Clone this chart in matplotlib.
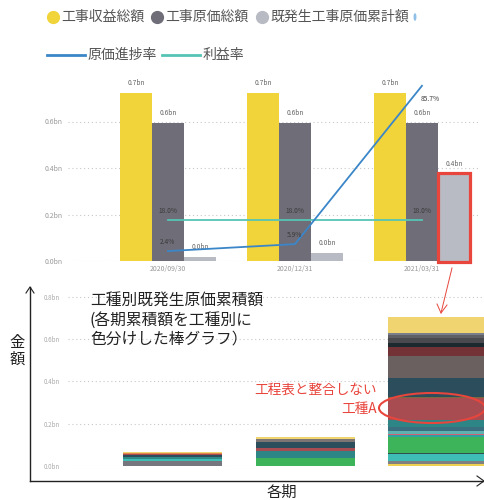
import numpy as np
import matplotlib
matplotlib.use("Agg")
import matplotlib.pyplot as plt
from matplotlib.patches import Rectangle, Ellipse
from matplotlib.lines import Line2D

plt.rcParams['font.family'] = ['Noto Sans CJK JP', 'DejaVu Sans']

# --- data -------------------------------------------------------------
periods = ['2020/09/30', '2020/12/31', '2021/03/31']
revenue = [0.722, 0.722, 0.722]        # 工事収益総額 (bn)
cost_total = [0.594, 0.594, 0.594]     # 工事原価総額 (bn)
cost_actual = [0.017, 0.034, 0.374]    # 既発生工事原価累計額 (bn)
progress = [2.4, 5.9, 85.7]            # 原価進捗率 (%)
margin = [18.0, 18.0, 18.0]            # 利益率 (%)

# 工種別既発生原価累積額 (bottom -> top)
p1_vals = [0.024, 0.008, 0.011, 0.008, 0.006, 0.005, 0.006]
p1_cols = ['#76767e', '#3dbdb5', '#2e8a86', '#2b4d5c', '#a84c52', '#e0864a', '#f0d470']
p2_vals = [0.039, 0.032, 0.016, 0.025, 0.016, 0.008]
p2_cols = ['#3db35a', '#2e8585', '#a84c52', '#2b4d5c', '#7d7474', '#f0d470']
p3_vals = [0.009, 0.014, 0.033, 0.005, 0.076, 0.009, 0.005, 0.014, 0.019, 0.033,
           0.104, 0.005, 0.090, 0.104, 0.043, 0.019, 0.024, 0.014, 0.009, 0.076]
p3_cols = ['#f0d050', '#808080', '#3dbdb5', '#2f4f4f', '#3db35a', '#30a0a0', '#d06070',
           '#5fb0b0', '#3a6f80', '#2e8585', '#a84c52', '#7a6a40', '#2b4d5c', '#6b6060',
           '#733336', '#1c2a30', '#4a4a4e', '#5f6066', '#7a7e8a', '#f0d470']

W, H = 485, 500
fig = plt.figure(figsize=(W / 100, H / 100), dpi=100)


def px_axes(x0, y_top, x1, y_bot):
    return fig.add_axes([x0 / W, 1 - y_bot / H, (x1 - x0) / W, (y_bot - y_top) / H])


YEL, GRY, LGR = '#f0d43a', '#6e6d78', '#b9bbc4'
BLU, TEA = '#3b86c8', '#55c4b4'
RED = '#e8453c'

# --- top chart --------------------------------------------------------
ymax = 0.78
ax = px_axes(68, 261 - ymax * 232.5, 480, 261)
x = np.arange(len(periods))
bw = 0.252
ax.bar(x - bw, revenue, bw, color=YEL)
ax.bar(x, cost_total, bw, color=GRY)
ax.bar(x + bw, cost_actual, bw, color=LGR)
for off, vals in [(-bw, revenue), (0, cost_total), (bw, cost_actual)]:
    for xi, v in zip(x, vals):
        ax.annotate(f'{v:.1f}bn', (xi + off, v), xytext=(0, 6), textcoords='offset pixels',
                    ha='center', va='bottom', fontsize=4.8, color='#666')
ax.set_xlim(-0.787, 2.457)
ax.set_ylim(0, ymax)
ax.set_yticks([0, 0.2, 0.4, 0.6])
ax.set_yticklabels(['0.0bn', '0.2bn', '0.4bn', '0.6bn'])
ax.set_xticks(x)
ax.set_xticklabels(periods)
ax.tick_params(length=0, labelsize=5, colors='#999', pad=4)
ax.tick_params(axis='x', pad=3)
ax.grid(axis='y', color='#c8c8c8', linestyle=(0, (1, 2.5)), linewidth=0.8)
ax.set_axisbelow(True)
for s in ax.spines.values():
    s.set_visible(False)

# red box around the latest 既発生工事原価累計額
ax.add_patch(Rectangle((2 + bw / 2, -0.003), bw, 0.383, fill=False, edgecolor=RED,
                       linewidth=2.3, clip_on=False, zorder=5))

ax2 = ax.twinx()
ax2.set_ylim(-2.6, 88.8)
ax2.plot(x, margin, color=TEA, linewidth=1.3)
ax2.plot(x, progress, color=BLU, linewidth=1.3)
for xi, v in zip(x, margin):
    ax2.annotate(f'{v:.1f}%', (xi, v), xytext=(0, 5), textcoords='offset pixels',
                 ha='center', va='bottom', fontsize=4.8, color='#3a3a3a')
for xi, v in zip(x[:2], progress[:2]):
    ax2.annotate(f'{v:.1f}%', (xi, v), xytext=(0, 5), textcoords='offset pixels',
                 ha='center', va='bottom', fontsize=4.8, color='#3a3a3a')
ax2.annotate(f'{progress[2]:.1f}%', (x[2], progress[2]), xytext=(8, -13),
             textcoords='offset pixels', ha='center', va='center', fontsize=4.8, color='#3a3a3a')
ax2.axis('off')

# legend
leg1 = [(53, YEL, '工事収益総額'), (157, GRY, '工事原価総額'), (262, LGR, '既発生工事原価累計額')]
for lx, c, t in leg1:
    fig.add_artist(Line2D([lx / W], [1 - 17 / H], marker='o', markersize=8.5, color=c,
                          linestyle='none'))
    fig.text((lx + 8) / W, 1 - 17 / H, t, fontsize=10, color='#555', va='center')
fig.add_artist(Ellipse((415 / W, 1 - 17 / H), 1.5 / W, 6 / H, color='#8fc0e8'))
leg2 = [(47, 85, BLU, '原価進捗率'), (162, 200, TEA, '利益率')]
for lx0, lx1, c, t in leg2:
    fig.add_artist(Line2D([lx0 / W, lx1 / W], [1 - 55 / H] * 2, color=c, linewidth=2))
    fig.text((lx1 + 3) / W, 1 - 55 / H, t, fontsize=10, color='#555', va='center')

# --- bottom chart -----------------------------------------------------
ymax_b = 0.83
bx = px_axes(68, 466 - ymax_b * 211.5, 485, 466)
bwb = 0.747
for xi, vals, cols in [(0, p1_vals, p1_cols), (1, p2_vals, p2_cols), (2, p3_vals, p3_cols)]:
    bottom = 0
    for v, c in zip(vals, cols):
        bx.bar(xi, v, bwb, bottom=bottom, color=c, linewidth=0)
        bottom += v
bx.set_xlim(-0.789, 2.358)
bx.set_ylim(0, ymax_b)
bx.set_yticks([0, 0.2, 0.4, 0.6, 0.8])
bx.set_yticklabels(['0.0bn', '0.2bn', '0.4bn', '0.6bn', '0.8bn'])
bx.set_xticks([])
bx.tick_params(length=0, labelsize=4.5, colors='#aaa', pad=6)
bx.grid(axis='y', color='#c8c8c8', linestyle=(0, (1, 2.5)), linewidth=0.8)
bx.set_axisbelow(True)
for s in bx.spines.values():
    s.set_visible(False)

bx.text(90 / W, 1 - 293 / H, '工種別既発生原価累積額\n(各期累積額を工種別に\n色分けした棒グラフ）',
        transform=fig.transFigure, fontsize=11.3, color='#222', va='top', ha='left',
        linespacing=1.15)
fig.text(377 / W, 1 - 390 / H, '工程表と整合しない', fontsize=9.8, color=RED, ha='right', va='center')
fig.text(377 / W, 1 - 409 / H, '工種A', fontsize=9.8, color=RED, ha='right', va='center')
fig.add_artist(Ellipse((432 / W, 1 - 408 / H), 106 / W, 30 / H, fill=False,
                       edgecolor=RED, linewidth=1.5))

# axis arrows and titles
fig.add_artist(plt.Line2D([30 / W, 30 / W], [1 - 481 / H, 1 - 287 / H], color='#222', linewidth=1))
fig.add_artist(plt.Line2D([30 / W, 484 / W], [1 - 481 / H, 1 - 481 / H], color='#222', linewidth=1))
fig.add_artist(plt.Line2D([26 / W, 30 / W, 34 / W], [1 - 293 / H, 1 - 287 / H, 1 - 293 / H],
                          color='#222', linewidth=0.8))
fig.add_artist(plt.Line2D([477 / W, 484 / W, 477 / W], [1 - 476 / H, 1 - 481 / H, 1 - 486 / H],
                          color='#222', linewidth=0.8))
fig.text(17 / W, 1 - 351 / H, '金\n額', fontsize=11, color='#222', ha='center', va='center',
         linespacing=1.0)
fig.text(282 / W, 1 - 492 / H, '各期', fontsize=11, color='#222', ha='center', va='center')

# red arrow from the box to the bottom chart
fig.add_artist(plt.Line2D([452 / W, 441 / W], [1 - 268 / H, 1 - 313 / H], color=RED, linewidth=0.7))
fig.add_artist(plt.Line2D([437 / W, 441 / W, 447 / W], [1 - 304 / H, 1 - 313 / H, 1 - 305 / H],
                          color=RED, linewidth=0.7))

fig.savefig('out.png', dpi=100)
